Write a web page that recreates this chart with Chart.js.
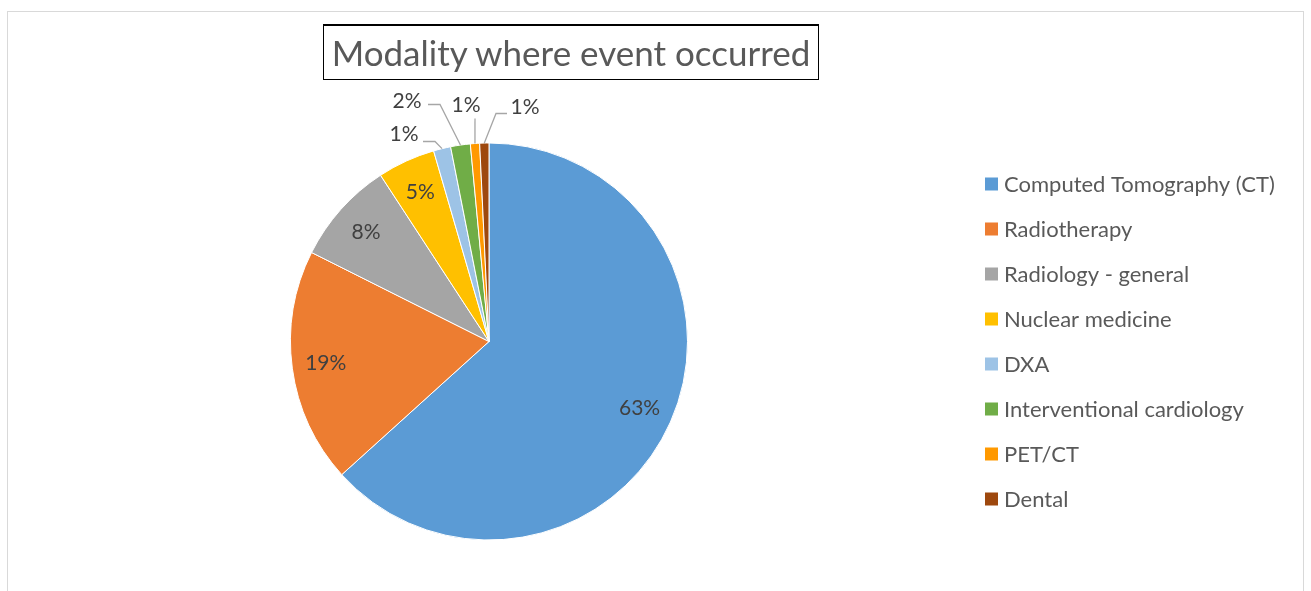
<!DOCTYPE html>
<html lang="en">
<head>
    <meta charset="UTF-8">
    <title>Modality where event occurred</title>
    <script src="https://cdn.jsdelivr.net/npm/chart.js"></script>
</head>
<style>
    * {
        font-family: 'Lato', 'Noto Sans', sans-serif;
    }
    body {
        margin: 0;
        background: #fff;
        width: 1311px;
        height: 591px;
        overflow: hidden;
        position: relative;
    }
    .frame {
        position: absolute;
        left: 7px;
        top: 11px;
        width: 1295px;
        height: 600px;
        border: 1px solid #d9d9d9;
    }
    .title-box {
        position: absolute;
        left: 323px;
        top: 24px;
        width: 494px;
        height: 53px;
        border: 1px solid #000;
        border-top-width: 2px;
        color: #595959;
        font-size: 35px;
        line-height: 53px;
        text-align: center;
        white-space: nowrap;
    }
    #pieChart {
        position: absolute;
        left: 0;
        top: 0;
    }
</style>
<body>
    <div class="frame"></div>
    <canvas id="pieChart" width="1311" height="591"></canvas>
    <div class="title-box">Modality where event occurred</div>

    <script>
        const modalities = ['Computed Tomography (CT)', 'Radiotherapy', 'Radiology - general', 'Nuclear medicine',
            'DXA', 'Interventional cardiology', 'PET/CT', 'Dental'];
        // share of events, percent
        const shares = [63.3, 19.1, 8.4, 4.7, 1.4, 1.6, 0.75, 0.75];
        const sliceColors = ['#5B9BD5', '#ED7D31', '#A5A5A5', '#FFC000', '#9DC3E6', '#70AD47', '#FF9900', '#9E480E'];

        // labels of the thin slices sit outside, with a leader line (offsets from pie centre)
        const outsideLabels = {
            4: { text: [-85, -207], leader: [[-54, -200], [-66, -200]] },
            5: { text: [-82, -240], leader: [[-49, -237], [-61, -237]] },
            6: { text: [-23, -236], leader: [[-14, -223]] },
            7: { text: [36, -234], leader: [[7, -228], [18, -228]] }
        };

        const labelFont = '21px Lato';
        const textColor = '#404040';

        const pieLabels = {
            id: 'pieLabels',
            afterDatasetsDraw(chart) {
                const ctx = chart.ctx;
                const meta = chart.getDatasetMeta(0);
                const total = shares.reduce((a, b) => a + b, 0);
                ctx.save();
                ctx.font = labelFont;
                ctx.fillStyle = textColor;
                ctx.textAlign = 'center';
                ctx.textBaseline = 'middle';
                meta.data.forEach((arc, i) => {
                    const txt = Math.round(shares[i] / total * 100) + '%';
                    const mid = (arc.startAngle + arc.endAngle) / 2;
                    const out = outsideLabels[i];
                    if (!out) {
                        const r = arc.outerRadius * 0.83;
                        ctx.fillText(txt, arc.x + r * Math.cos(mid), arc.y + r * Math.sin(mid));
                        return;
                    }
                    ctx.strokeStyle = '#A6A6A6';
                    ctx.lineWidth = 1.3;
                    ctx.beginPath();
                    ctx.moveTo(arc.x + arc.outerRadius * Math.cos(mid), arc.y + arc.outerRadius * Math.sin(mid));
                    out.leader.forEach(p => ctx.lineTo(arc.x + p[0], arc.y + p[1]));
                    ctx.stroke();
                    ctx.fillText(txt, arc.x + out.text[0], arc.y + out.text[1]);
                });
                ctx.restore();
            }
        };

        const sideLegend = {
            id: 'sideLegend',
            afterDraw(chart) {
                const ctx = chart.ctx;
                ctx.save();
                ctx.font = '22px Lato';
                ctx.textBaseline = 'middle';
                ctx.textAlign = 'left';
                modalities.forEach((name, i) => {
                    const y = 184 + i * 45;
                    ctx.fillStyle = sliceColors[i];
                    ctx.fillRect(985, y - 6.5, 13, 13);
                    ctx.fillStyle = '#595959';
                    ctx.fillText(name, 1004, y + 1);
                });
                ctx.restore();
            }
        };

        new Chart(document.getElementById('pieChart'), {
            type: 'pie',
            data: {
                labels: modalities,
                datasets: [{
                    data: shares,
                    backgroundColor: sliceColors,
                    borderColor: '#ffffff',
                    borderWidth: 1
                }]
            },
            options: {
                responsive: false,
                animation: false,
                layout: {
                    padding: { left: 290, right: 623, top: 142, bottom: 50 }
                },
                plugins: {
                    legend: { display: false },
                    tooltip: { enabled: false },
                    title: { display: false }
                }
            },
            plugins: [pieLabels, sideLegend]
        });
    </script>
</body>
</html>
